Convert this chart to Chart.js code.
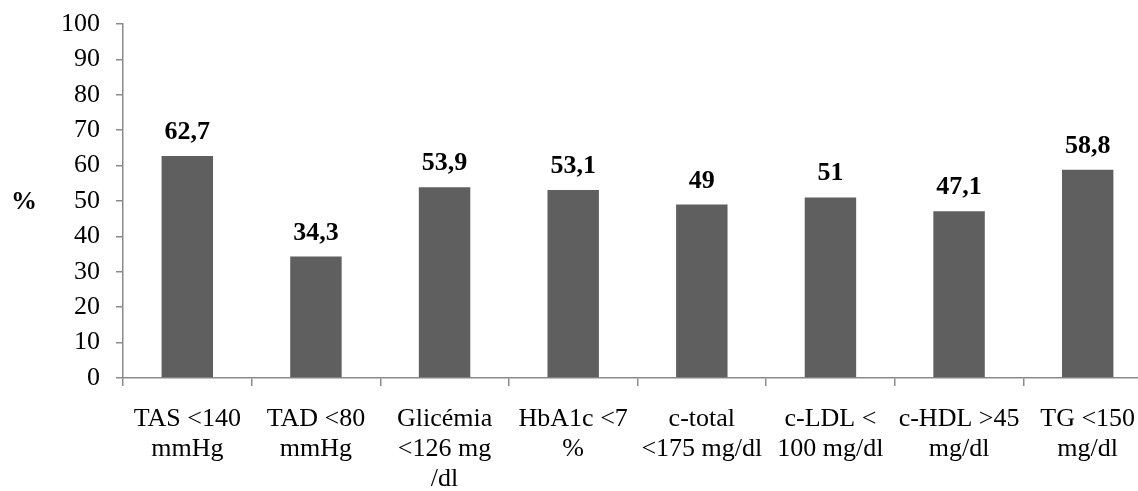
<!DOCTYPE html>
<html>
<head>
<meta charset="utf-8">
<script src="https://cdn.jsdelivr.net/npm/chart.js@4.4.1/dist/chart.umd.min.js"></script>
<style>
  html, body { margin: 0; padding: 0; background: #ffffff; overflow: hidden; }
  #wrap { width: 1152px; height: 491px; }
</style>
</head>
<body>
<div id="wrap"><canvas id="chart" width="1152" height="491"></canvas></div>
<script>
// Categories (multi-line axis labels)
const categories = [
  ["TAS <140", "mmHg"],
  ["TAD <80", "mmHg"],
  ["Glicémia", "<126 mg", "/dl"],
  ["HbA1c <7", "%"],
  ["c-total", "<175 mg/dl"],
  ["c-LDL <", "100 mg/dl"],
  ["c-HDL >45", "mg/dl"],
  ["TG <150", "mg/dl"]
];
// Percentage of patients within target
const percentages = [62.7, 34.3, 53.9, 53.1, 49, 51, 47.1, 58.8];
// Y axis range
const yMin = 0;
const yMax = 100;
const yStep = 10;
const yTitle = "%";

const FONT = "'Liberation Serif', 'Times New Roman', serif";
const AXIS_COLOR = "#8a8a8a";
const BAR_COLOR = "#5f5f5f";

const fmt = v => String(v).replace('.', ',');

// Bold value labels above each bar, plus the "%" axis caption
const valueLabels = {
  id: 'valueLabels',
  afterDatasetsDraw(chart) {
    const ctx = chart.ctx;
    ctx.save();
    ctx.fillStyle = '#000000';
    ctx.font = "bold 26px " + FONT;
    ctx.textAlign = 'center';
    ctx.textBaseline = 'alphabetic';
    chart.getDatasetMeta(0).data.forEach((bar, i) => {
      ctx.fillText(fmt(percentages[i]), bar.x, bar.y - 17);
    });
    ctx.textAlign = 'left';
    ctx.textBaseline = 'middle';
    ctx.fillText(yTitle, 11, chart.scales.y.getPixelForValue(50) + 1);
    ctx.restore();
  }
};

new Chart(document.getElementById('chart'), {
  type: 'bar',
  data: {
    labels: categories,
    datasets: [{
      data: percentages,
      backgroundColor: BAR_COLOR,
      borderWidth: 0,
      categoryPercentage: 0.4,
      barPercentage: 1.0
    }]
  },
  options: {
    responsive: false,
    animation: false,
    devicePixelRatio: 1,
    layout: { padding: { top: 24, right: 0, left: 0, bottom: 0 } },
    plugins: {
      legend: { display: false },
      tooltip: { enabled: false }
    },
    scales: {
      x: {
        offset: true,
        grid: {
          offset: true,
          drawOnChartArea: false,
          drawTicks: true,
          tickLength: 8,
          color: AXIS_COLOR,
          lineWidth: 1.5
        },
        border: { color: AXIS_COLOR, width: 1.5 },
        ticks: {
          color: '#000000',
          font: { family: FONT, size: 26, lineHeight: 30 / 26 },
          padding: 18,
          maxRotation: 0,
          autoSkip: false
        },
        afterFit(scale) {
          scale.height = 491 - 378;
          scale.paddingLeft = 0;
          scale.paddingRight = 0;
        }
      },
      y: {
        min: yMin,
        max: yMax,
        grid: {
          drawOnChartArea: false,
          drawTicks: true,
          tickLength: 7,
          color: AXIS_COLOR,
          lineWidth: 1.5
        },
        border: { color: AXIS_COLOR, width: 1.5 },
        ticks: {
          stepSize: yStep,
          color: '#000000',
          font: { family: FONT, size: 26 },
          padding: 16
        },
        afterFit(scale) {
          scale.width = 123;
          scale.paddingTop = 0;
          scale.paddingBottom = 0;
        }
      }
    }
  },
  plugins: [valueLabels]
});
</script>
</body>
</html>
